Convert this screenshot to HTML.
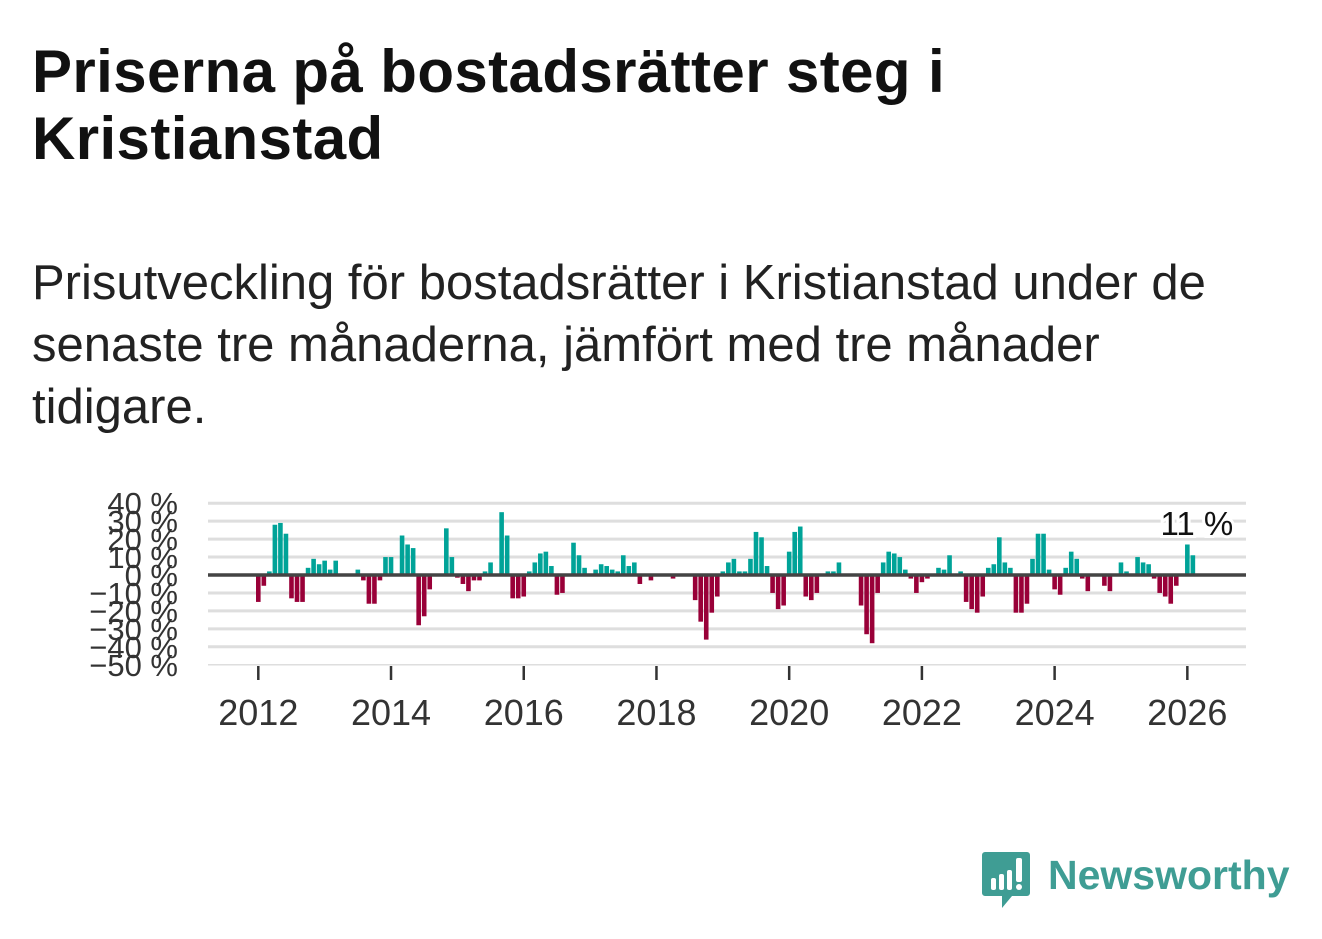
<!DOCTYPE html>
<html><head><meta charset="utf-8">
<style>
body{margin:0;width:1322px;height:939px;background:#fff;overflow:hidden;font-family:"Liberation Sans",sans-serif;position:relative}
#title{position:absolute;left:32px;top:38px;font-size:60px;font-weight:bold;line-height:67px;color:#111;margin:0;letter-spacing:0.4px;white-space:nowrap}
#sub{position:absolute;left:32px;top:252px;font-size:49px;line-height:62px;color:#222;margin:0;white-space:nowrap}
svg{position:absolute;left:0;top:0}
</style></head><body>
<h1 id="title">Priserna på bostadsrätter steg i<br>Kristianstad</h1>
<p id="sub">Prisutveckling för bostadsrätter i Kristianstad under de<br>senaste tre månaderna, jämfört med tre månader<br>tidigare.</p>
<svg id="chart" width="1322" height="939"></svg>
<div style="position:absolute;left:982px;top:850px;width:320px;height:60px">
<svg width="50" height="60" style="left:0;top:0"><path d="M3 2h42a3 3 0 0 1 3 3v38a3 3 0 0 1-3 3H30l-10 12v-12H3a3 3 0 0 1-3-3V5a3 3 0 0 1 3-3z" fill="#3f9d94"/><rect x="9" y="28" width="5" height="12" rx="2" fill="#fff"/><rect x="17" y="24" width="5" height="16" rx="2" fill="#fff"/><rect x="25" y="20" width="5" height="20" rx="2" fill="#fff"/><rect x="34" y="8" width="6" height="24" rx="2" fill="#fff"/><circle cx="37" cy="37" r="3" fill="#fff"/></svg>
<div style="position:absolute;left:66px;top:1px;font-size:41px;color:#3f9d94;font-weight:bold;line-height:48px">Newsworthy</div>
</div>
<script>
const values=[-15,-6,2,28,29,23,-13,-15,-15,4,9,6,8,3,8,0,0,0,3,-3,-16,-16,-3,10,10,0,22,17,15,-28,-23,-8,0,0,26,10,-1.5,-5,-9,-3,-3,2,7,0,35,22,-13,-13,-12,2,7,12,13,5,-11,-10,0,18,11,4,0,3,6,5,3,2,11,5,7,-5,0,-3,0,0,0,-2,0,0,0,-14,-26,-36,-21,-12,2,7,9,2,2,9,24,21,5,-10,-19,-17,13,24,27,-12,-14,-10,0,2,2,7,0,0,0,-17,-33,-38,-10,7,13,12,10,3,-2,-10,-4,-2,0,4,3,11,0,2,-15,-19,-21,-12,4,6,21,7,4,-21,-21,-16,9,23,23,3,-8,-11,4,13,9,-2,-9,0,0,-6,-9,0,7,2,0,10,7,6,-2,-10,-12,-16,-6,0,17,11];
const yTicks=[40,30,20,10,0,-10,-20,-30,-40,-50];
const xYears=[2012,2014,2016,2018,2020,2022,2024,2026];
const startYear=2012;
const lastLabel="11 %";
const NS="http://www.w3.org/2000/svg";
const svg=document.getElementById('chart');
const y=v=>575-v*1.795;
const x=k=>258.3+5.53*k;
const xYear=yr=>x((yr-startYear)*12);
function mk(t,a){const e=document.createElementNS(NS,t);for(const k in a)e.setAttribute(k,a[k]);svg.appendChild(e);return e;}
yTicks.forEach(v=>{
 if(v!==0){const g=mk('line',{x1:208,x2:1246,y1:y(v),y2:y(v),stroke:'#dedede','stroke-width':v===-50?1.5:3});
 
 }
 const t=mk('text',{x:178,y:y(v)+11,'text-anchor':'end','font-size':31,fill:'#333','font-family':'Liberation Sans, sans-serif'});
 t.textContent=(v<0?'−'+(-v):v)+' %';
 
 
});
values.forEach((v,k)=>{
 if(v===0)return;
 const r=mk('rect',{x:x(k)-2.3,width:4.6,y:v>0?y(v):y(0),height:Math.abs(y(v)-y(0)),fill:v>0?'#00a398':'#990038'});
 
 
});
const z=mk('line',{x1:208,x2:1246,y1:y(0),y2:y(0),stroke:'#444','stroke-width':3.5});


xYears.forEach(yr=>{
 const tk=mk('line',{x1:xYear(yr),x2:xYear(yr),y1:666,y2:680,stroke:'#333','stroke-width':2.5});
 
 
 const t=mk('text',{x:xYear(yr),y:725,'text-anchor':'middle','font-size':36,fill:'#333','font-family':'Liberation Sans, sans-serif'});
 t.textContent=yr;
 
 
});
const li=values.length-1;
const lab=mk('text',{x:x(li)+4,y:535,'text-anchor':'middle','font-size':33,fill:'#111',stroke:'#fff','stroke-width':6,'paint-order':'stroke','font-family':'Liberation Sans, sans-serif'});
lab.textContent=lastLabel;


</script>
</body></html>
